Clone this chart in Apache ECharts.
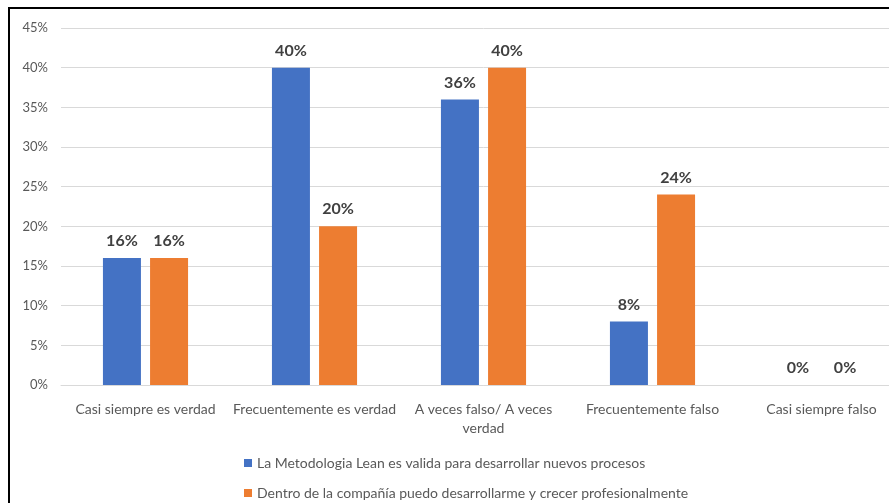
<!DOCTYPE html>
<html>
<head>
<meta charset="utf-8">
<script src="https://cdn.jsdelivr.net/npm/echarts@6/dist/echarts.min.js"></script>
<style>
  html, body { margin: 0; padding: 0; background: #fff; overflow: hidden; }
  #wrap { width: 889px; height: 503px; overflow: hidden; }
  #chart { width: 920px; height: 503px; }
</style>
</head>
<body>
<div id="wrap"><div id="chart"></div></div>
<script>
// Survey answer categories
const categories = [
  'Casi siempre es verdad',
  'Frecuentemente es verdad',
  'A veces falso/ A veces\nverdad',
  'Frecuentemente falso',
  'Casi siempre falso'
];
// Share of respondents per answer (percent)
const leanValues = [16, 40, 36, 8, 0];
const growthValues = [16, 20, 40, 24, 0];
const seriesNames = [
  'La Metodologia Lean es valida para desarrollar nuevos procesos',
  'Dentro de la compañía puedo desarrollarme y crecer profesionalmente'
];
const yTicks = { min: 0, max: 45, interval: 5 };

const font = 'Lato, "Open Sans", sans-serif';
const chart = echarts.init(document.getElementById('chart'), null, { renderer: 'canvas' });

const barLabel = {
  show: true,
  position: 'top',
  distance: 9,
  formatter: p => p.value + '%',
  fontFamily: font,
  fontWeight: 'bold',
  fontSize: 16,
  color: '#404040'
};

chart.setOption({
  animation: false,
  textStyle: { fontFamily: font },
  graphic: [{
    type: 'rect',
    shape: { x: 9, y: 8, width: 940, height: 520 },
    style: { fill: 'none', stroke: '#000', lineWidth: 2 },
    silent: true,
    z: 100
  }],
  grid: { left: 61, top: 28, width: 845, bottom: 118, containLabel: false },
  legend: {
    orient: 'vertical',
    left: 244,
    top: 456,
    height: 48,
    padding: 0,
    itemWidth: 8,
    itemHeight: 8,
    itemGap: 16,
    icon: 'rect',
    textStyle: { fontFamily: font, fontSize: 14, color: '#595959' },
    data: seriesNames
  },
  xAxis: {
    type: 'category',
    data: categories,
    axisLine: { show: true, lineStyle: { color: '#d9d9d9' } },
    axisTick: { show: false },
    axisLabel: {
      fontFamily: font,
      fontSize: 14,
      color: '#595959',
      margin: 15,
      lineHeight: 19,
      interval: 0
    }
  },
  yAxis: {
    type: 'value',
    min: yTicks.min,
    max: yTicks.max,
    interval: yTicks.interval,
    axisLine: { show: false },
    axisTick: { show: false },
    splitLine: { lineStyle: { color: '#d9d9d9', width: 1 } },
    axisLabel: {
      formatter: v => v + '%',
      fontFamily: font,
      fontSize: 13,
      color: '#595959',
      margin: 13
    }
  },
  series: [
    {
      name: seriesNames[0],
      type: 'bar',
      data: leanValues,
      barWidth: 38,
      barGap: '24%',
      itemStyle: { color: '#4472c4' },
      label: barLabel
    },
    {
      name: seriesNames[1],
      type: 'bar',
      data: growthValues,
      barWidth: 38,
      barGap: '24%',
      itemStyle: { color: '#ed7d31' },
      label: barLabel
    }
  ]
});
</script>
</body>
</html>
